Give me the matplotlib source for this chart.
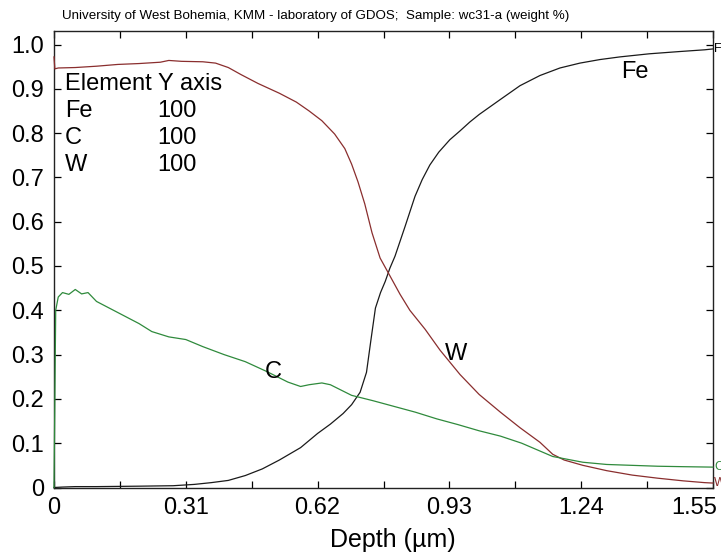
import matplotlib
matplotlib.use("Agg")
import matplotlib.pyplot as plt

plt.rcParams['font.family'] = ['Liberation Sans', 'DejaVu Sans']

# Depth profiles (weight fraction) vs depth in micrometres
fe_depth = [0.0, 0.02, 0.05, 0.1, 0.2, 0.28, 0.33, 0.37, 0.41, 0.45, 0.49, 0.53, 0.58,
            0.62, 0.65, 0.68, 0.70, 0.72, 0.735, 0.745, 0.756, 0.768, 0.779, 0.79,
            0.802, 0.814, 0.826, 0.838, 0.849, 0.866, 0.884, 0.905, 0.931, 0.955,
            0.978, 1.0, 1.05, 1.096, 1.143, 1.19, 1.237, 1.284, 1.331, 1.4, 1.47, 1.53, 1.55]
fe_vals = [0.0, 0.001, 0.002, 0.002, 0.003, 0.004, 0.007, 0.011, 0.016, 0.027, 0.042, 0.062, 0.09,
           0.122, 0.143, 0.167, 0.187, 0.215, 0.26, 0.33, 0.405, 0.44, 0.465, 0.495,
           0.522, 0.556, 0.59, 0.625, 0.657, 0.695, 0.728, 0.757, 0.785, 0.805,
           0.825, 0.842, 0.876, 0.907, 0.93, 0.947, 0.958, 0.966, 0.972, 0.979, 0.984, 0.988, 0.99]

w_depth = [0.0, 0.002, 0.01, 0.05, 0.1, 0.15, 0.2, 0.25, 0.27, 0.3, 0.35, 0.38, 0.41,
           0.44, 0.48, 0.53, 0.57, 0.60, 0.63, 0.66, 0.684, 0.70, 0.715, 0.731, 0.748,
           0.767, 0.79, 0.814, 0.837, 0.873, 0.908, 0.955, 1.0, 1.05, 1.096, 1.143,
           1.173, 1.2, 1.244, 1.3, 1.36, 1.42, 1.48, 1.53, 1.55]
w_vals = [0.972, 0.945, 0.947, 0.948, 0.951, 0.955, 0.957, 0.96, 0.964, 0.962, 0.961, 0.958, 0.948,
          0.932, 0.912, 0.89, 0.87, 0.85, 0.828, 0.798, 0.765, 0.73, 0.69, 0.64, 0.575,
          0.518, 0.478, 0.436, 0.40, 0.357, 0.31, 0.255, 0.21, 0.17, 0.135, 0.102,
          0.075, 0.062, 0.05, 0.038, 0.028, 0.021, 0.015, 0.011, 0.01]

c_depth = [0.0, 0.002, 0.004, 0.01, 0.02, 0.035, 0.05, 0.065, 0.08, 0.1, 0.13, 0.16,
           0.2, 0.23, 0.27, 0.31, 0.35, 0.4, 0.45, 0.5, 0.55, 0.58, 0.6, 0.63, 0.65,
           0.7, 0.75, 0.8, 0.85, 0.9, 0.95, 1.0, 1.05, 1.1, 1.173, 1.244, 1.3, 1.36,
           1.42, 1.48, 1.55]
c_vals = [0.0, 0.20, 0.40, 0.43, 0.44, 0.436, 0.447, 0.437, 0.44, 0.42, 0.405, 0.39,
          0.37, 0.352, 0.34, 0.334, 0.318, 0.30, 0.284, 0.262, 0.238, 0.228, 0.232, 0.236, 0.232,
          0.208, 0.196, 0.183, 0.17, 0.155, 0.142, 0.128, 0.116, 0.1, 0.07, 0.057, 0.052,
          0.05, 0.048, 0.047, 0.046]

x_major = [0, 0.31, 0.62, 0.93, 1.24, 1.55]
x_minor = [0.155, 0.465, 0.775, 1.085, 1.395]
y_ticks = [0, 0.1, 0.2, 0.3, 0.4, 0.5, 0.6, 0.7, 0.8, 0.9, 1.0]
y_labels = ['0', '0.1', '0.2', '0.3', '0.4', '0.5', '0.6', '0.7', '0.8', '0.9', '1.0']

legend_rows = [('Fe', '100'), ('C', '100'), ('W', '100')]

W, H = 721, 554
fig = plt.figure(figsize=(W / 100, H / 100), dpi=100)
ax = fig.add_axes([54 / W, 1 - 487.5 / H, (713 - 54) / W, (487.5 - 31) / H])

col_fe = '#1a1a1a'
col_w = '#8a2e2e'
col_c = '#2f8a3c'

ax.plot(fe_depth, fe_vals, color=col_fe, lw=0.9, clip_on=False, zorder=3)
ax.plot(w_depth, w_vals, color=col_w, lw=0.9, clip_on=False, zorder=3)
ax.plot(c_depth, c_vals, color=col_c, lw=0.9, clip_on=False, zorder=3)

ax.set_xlim(0, 1.55)
ax.set_ylim(0, (487.5 - 31) / 443)

ax.set_xticks(x_major)
ax.set_xticks(x_minor, minor=True)
ax.set_xticklabels(['0', '0.31', '0.62', '0.93', '1.24', ''])
ax.set_yticks(y_ticks)
ax.set_yticklabels(y_labels)

ax.tick_params(axis='both', which='both', direction='in', length=5, width=0.9,
               top=True, right=True, labelsize=17, colors='black')
ax.tick_params(axis='x', which='major', pad=7)
ax.tick_params(axis='y', which='major', pad=7)
for s in ax.spines.values():
    s.set_linewidth(1.0)
    s.set_color('#222222')

# last x label kept inside the figure
fig.text(717 / W, ax.get_position().y0 - 9 / H, '1.55', fontsize=17,
         ha='right', va='top')

fig.text(393 / W, 1 - 546.7 / H, 'Depth (µm)', fontsize=18, ha='center', va='baseline')

fig.text(62 / W, 1 - 19 / H,
         'University of West Bohemia, KMM - laboratory of GDOS;  Sample: wc31-a (weight %)',
         fontsize=9.6, ha='left', va='baseline')

# element table in the upper left
fig.text(65 / W, 1 - 90 / H, 'Element Y axis', fontsize=17, ha='left', va='baseline')
for i, (el, scale) in enumerate(legend_rows):
    yb = 1 - (116.7 + 27 * i) / H
    fig.text(65 / W, yb, el, fontsize=17, ha='left', va='baseline')
    fig.text(157 / W, yb, scale, fontsize=17, ha='left', va='baseline')

# curve labels
fig.text(621 / W, 1 - 78 / H, 'Fe', fontsize=17, ha='left', va='baseline')
fig.text(445 / W, 1 - 360 / H, 'W', fontsize=17, ha='left', va='baseline')
fig.text(265 / W, 1 - 378 / H, 'C', fontsize=17, ha='left', va='baseline')

# end-of-curve tags at the right edge
ax.text(1.553, fe_vals[-1], 'Fe', fontsize=9, ha='left', va='center', clip_on=False)
ax.text(1.553, c_vals[-1], 'C', fontsize=9, ha='left', va='center', clip_on=False, color=col_c)
ax.text(1.553, w_vals[-1], 'W', fontsize=9, ha='left', va='center', clip_on=False, color=col_w)

fig.savefig('out.png', dpi=100)
